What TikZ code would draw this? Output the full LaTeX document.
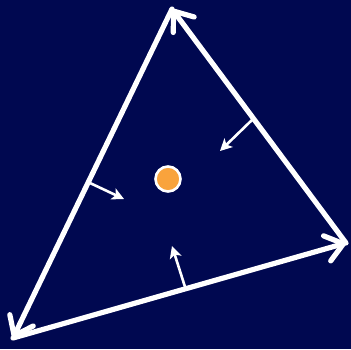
\documentclass[tikz,border=0pt]{standalone}
\usetikzlibrary{arrows.meta,positioning,calc}
\definecolor{navy}{RGB}{0,8,80}
\definecolor{sun}{RGB}{249,163,60}

\begin{document}
\begin{tikzpicture}[
x=1pt,y=-1pt,
side/.style={draw=white,line width=5.2pt,line cap=round,-{Straight Barb[length=17pt,width=26pt,line cap=round,line join=round]}},
push/.style={draw=white,line width=2.6pt,-{Stealth[length=12pt,width=12pt,inset=3pt]}},
ctr/.style={circle,fill=sun,draw=white,line width=2.6pt,minimum size=25pt,inner sep=0pt}
]
\fill[navy] (0,0) rectangle (351,349);
\useasboundingbox (0,0) rectangle (351,349);
\coordinate (top) at (172,9);
\coordinate (rgt) at (346,243);
\coordinate (lft) at (13,338);
\draw[side] (top) -- (lft);
\draw[side] (lft) -- (rgt);
\draw[side] (rgt) -- (top);
\node[ctr] (c) at (168,179) {};
\coordinate (n1) at (90,183);
\coordinate (m1) at (124,199);
\coordinate (n2) at (253,119);
\coordinate (m2) at (220,151);
\coordinate (n3) at (186,290);
\coordinate (m3) at (172,246);
\draw[push] (n1) -- (m1);
\draw[push] (n2) -- (m2);
\draw[push] (n3) -- (m3);
\end{tikzpicture}
\end{document}
